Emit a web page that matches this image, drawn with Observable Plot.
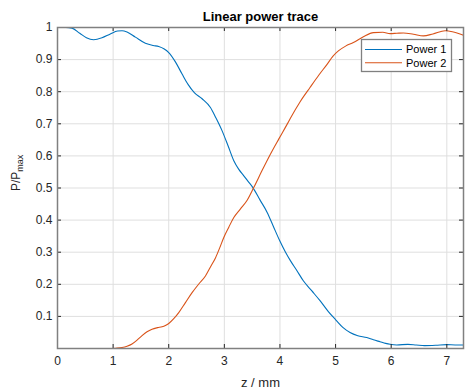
<!DOCTYPE html>
<html>
<head>
<meta charset="utf-8">
<script src="https://cdn.jsdelivr.net/npm/d3@7"></script>
<script src="https://cdn.jsdelivr.net/npm/@observablehq/plot@0.6"></script>
<style>
  html, body { margin: 0; padding: 0; background: #fff; }
  svg { display: block; }
</style>
</head>
<body>
<div id="chart"></div>
<script>
const titleText = "Linear power trace";
const xLabelText = "z / mm";
const seriesNames = ["Power 1", "Power 2"];
const seriesColors = ["#0072BD", "#D95319"];

const xTicks = [0, 1, 2, 3, 4, 5, 6, 7];
const yTicks = [0.1, 0.2, 0.3, 0.4, 0.5, 0.6, 0.7, 0.8, 0.9, 1];

const z1 = [0, 0.15, 0.26, 0.4, 0.52, 0.65, 0.8, 0.95, 1.08, 1.16, 1.25, 1.4, 1.58, 1.72, 1.82, 1.92, 2.0, 2.12, 2.24, 2.35, 2.46, 2.6, 2.75, 2.85, 2.96, 3.07, 3.17, 3.26, 3.35, 3.43, 3.51, 3.64, 3.77, 3.88, 3.99, 4.1, 4.19, 4.3, 4.42, 4.57, 4.72, 4.87, 5.01, 5.13, 5.26, 5.4, 5.56, 5.68, 5.8, 5.9, 5.98, 6.1, 6.3, 6.45, 6.6, 6.8, 7.0, 7.15, 7.3];
const p1 = [1.0, 1.0, 0.998, 0.982, 0.968, 0.962, 0.968, 0.98, 0.989, 0.990, 0.986, 0.970, 0.951, 0.944, 0.941, 0.933, 0.922, 0.893, 0.855, 0.822, 0.797, 0.778, 0.751, 0.718, 0.678, 0.630, 0.585, 0.558, 0.538, 0.520, 0.502, 0.463, 0.424, 0.381, 0.338, 0.300, 0.273, 0.244, 0.211, 0.180, 0.149, 0.115, 0.088, 0.066, 0.050, 0.040, 0.034, 0.027, 0.021, 0.016, 0.013, 0.011, 0.013, 0.011, 0.009, 0.010, 0.012, 0.011, 0.011];

const z2 = [0, 0.5, 0.9, 1.05, 1.16, 1.25, 1.34, 1.43, 1.52, 1.61, 1.70, 1.8, 1.88, 1.94, 2.0, 2.09, 2.18, 2.3, 2.42, 2.54, 2.66, 2.75, 2.84, 2.92, 2.99, 3.08, 3.17, 3.29, 3.41, 3.53, 3.68, 3.83, 3.98, 4.13, 4.19, 4.36, 4.54, 4.7, 4.85, 4.95, 5.05, 5.18, 5.32, 5.5, 5.68, 5.85, 5.98, 6.1, 6.22, 6.4, 6.58, 6.75, 6.97, 7.1, 7.3];
const p2 = [0, 0, 0, 0.001, 0.003, 0.007, 0.014, 0.026, 0.040, 0.052, 0.060, 0.065, 0.068, 0.072, 0.078, 0.093, 0.112, 0.143, 0.174, 0.201, 0.226, 0.254, 0.282, 0.315, 0.346, 0.378, 0.408, 0.435, 0.462, 0.502, 0.555, 0.606, 0.653, 0.699, 0.718, 0.768, 0.813, 0.852, 0.886, 0.910, 0.927, 0.942, 0.953, 0.971, 0.984, 0.985, 0.981, 0.982, 0.983, 0.979, 0.974, 0.980, 0.990, 0.987, 0.976];

const data1 = z1.map((z, i) => ({z, p: p1[i]}));
const data2 = z2.map((z, i) => ({z, p: p2[i]}));

const W = 475, H = 391;
const mL = 57, mR = 12, mT = 27, mB = 43;
const innerW = W - mL - mR, innerH = H - mT - mB;
const font = "'Liberation Sans', Arial, Helvetica, sans-serif";
const axisColor = "#262626";
const tickLen = 4;

const plot = Plot.plot({
  width: W,
  height: H,
  marginLeft: mL,
  marginRight: mR,
  marginTop: mT,
  marginBottom: mB,
  style: {fontFamily: font, background: "#fff", overflow: "visible"},
  x: {domain: [0, 7.3]},
  y: {domain: [0, 1]},
  marks: [
    Plot.gridX(xTicks, {stroke: "#dfdfdf", strokeOpacity: 1, strokeWidth: 1}),
    Plot.gridY(yTicks, {stroke: "#dfdfdf", strokeOpacity: 1, strokeWidth: 1}),
    Plot.line(data1, {x: "z", y: "p", stroke: seriesColors[0], strokeWidth: 1.1, curve: "monotone-x"}),
    Plot.line(data2, {x: "z", y: "p", stroke: seriesColors[1], strokeWidth: 1.1, curve: "monotone-x"}),
    // inward ticks on all four sides
    Plot.tickX(xTicks, {x: d => d, insetTop: innerH - tickLen, stroke: axisColor, strokeWidth: 1}),
    Plot.tickX(xTicks, {x: d => d, insetBottom: innerH - tickLen, stroke: axisColor, strokeWidth: 1}),
    Plot.tickY(yTicks, {y: d => d, insetRight: innerW - tickLen, stroke: axisColor, strokeWidth: 1}),
    Plot.tickY(yTicks, {y: d => d, insetLeft: innerW - tickLen, stroke: axisColor, strokeWidth: 1}),
    Plot.frame({stroke: "#808080", strokeWidth: 1.5}),
    Plot.axisX(xTicks, {tickSize: 0, tickPadding: 8, fontSize: 12, fill: axisColor, label: null, tickFormat: d => String(d)}),
    Plot.axisY(yTicks, {tickSize: 0, tickPadding: 5, fontSize: 12, fill: axisColor, label: null, tickFormat: d => String(d)}),
    Plot.text([titleText], {frameAnchor: "top", dy: -7, lineAnchor: "bottom", fontSize: 13, fontWeight: "bold", fill: "#000"}),
    Plot.text([xLabelText], {frameAnchor: "bottom", dy: 38, lineAnchor: "bottom", fontSize: 13, fill: axisColor})
  ]
});

document.getElementById("chart").appendChild(plot);

const svg = d3.select(plot);

// Y label with subscript
const yl = svg.append("text")
  .attr("transform", `translate(20,191) rotate(-90)`)
  .attr("text-anchor", "start")
  .attr("font-family", font)
  .attr("font-size", 12)
  .attr("fill", axisColor);
yl.append("tspan").text("P/P");
yl.append("tspan").attr("font-size", 9).attr("dy", 3).text("max");

// Legend
const lg = svg.append("g").attr("font-family", font).attr("font-size", 11).attr("text-anchor", "start");
lg.append("rect").attr("x", 361.5).attr("y", 39.5).attr("width", 90).attr("height", 32)
  .attr("fill", "#fff").attr("stroke", "#808080").attr("stroke-width", 1.3);
seriesNames.forEach((name, i) => {
  const y = 49.5 + i * 13.3;
  lg.append("line").attr("x1", 365).attr("x2", 402).attr("y1", y).attr("y2", y)
    .attr("stroke", seriesColors[i]).attr("stroke-width", 1.1);
  lg.append("text").attr("x", 406).attr("y", y).attr("dy", "0.35em").attr("fill", "#000")
    .attr("text-anchor", "start").text(name);
});
</script>
</body>
</html>
